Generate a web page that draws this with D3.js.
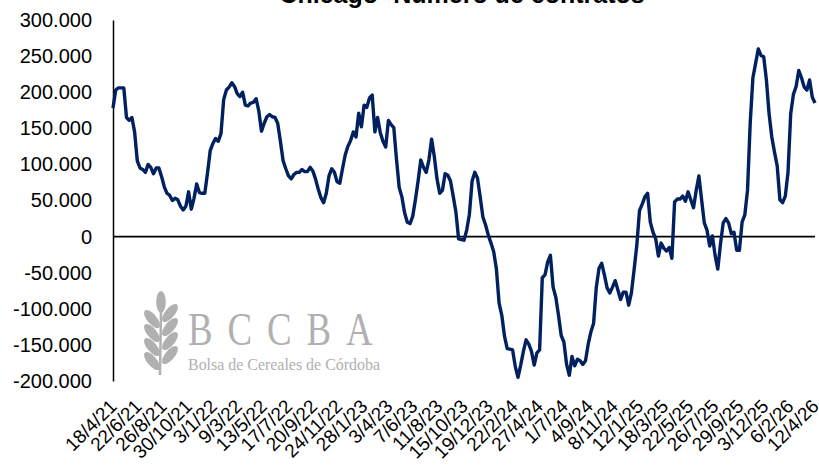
<!DOCTYPE html>
<html>
<head>
<meta charset="utf-8">
<script src="https://cdn.jsdelivr.net/npm/d3@7"></script>
<style>
  body { margin: 0; background: #fff; }
  svg { display: block; }
</style>
</head>
<body>
<div id="chart"></div>
<script>
const width = 819;
const height = 465;

// weekly series, first week = 18/4/21
const startDate = new Date(2021, 3, 18);
const values = [
  178000, 203000, 206000, 206000, 206000, 165000, 161000, 165000, 145000, 105000,
  95000, 93000, 89000, 100000, 96000, 87000, 95000, 95000, 83000, 69000,
  60000, 57000, 50000, 53000, 51000, 42000, 37000, 42000, 62000, 38000,
  53000, 73000, 61000, 60000, 60000, 88000, 119000, 129000, 136000, 132000,
  143000, 190000, 203000, 207000, 213000, 208000, 198000, 194000, 200000, 182000,
  181000, 185000, 186000, 191000, 174000, 146000, 157000, 166000, 169000, 166000,
  165000, 157000, 132000, 105000, 94000, 84000, 80000, 86000, 89000, 89000,
  93000, 90000, 90000, 96000, 91000, 80000, 66000, 54000, 47000, 60000,
  84000, 94000, 89000, 76000, 74000, 94000, 113000, 125000, 133000, 145000,
  138000, 171000, 152000, 182000, 179000, 192000, 196000, 145000, 165000, 144000,
  132000, 124000, 161000, 155000, 151000, 107000, 68000, 55000, 33000, 20000,
  18000, 28000, 51000, 77000, 106000, 96000, 89000, 106000, 135000, 111000,
  80000, 60000, 64000, 87000, 85000, 77000, 56000, 34000, -3000, -4000,
  -5000, 9000, 31000, 77000, 89000, 81000, 55000, 27000, 16000, 2000,
  -9000, -21000, -45000, -92000, -109000, -138000, -155000, -156000, -157000, -180000,
  -195000, -178000, -159000, -143000, -149000, -159000, -178000, -161000, -157000, -57000,
  -53000, -35000, -26000, -70000, -84000, -109000, -137000, -146000, -177000, -192000,
  -166000, -179000, -170000, -172000, -177000, -172000, -149000, -132000, -120000, -70000,
  -44000, -37000, -53000, -71000, -78000, -70000, -61000, -74000, -87000, -77000,
  -77000, -95000, -78000, -46000, -12000, 36000, 45000, 55000, 60000, 20000,
  6000, -3000, -27000, -9000, -16000, -20000, -15000, -30000, 48000, 52000,
  52000, 56000, 49000, 62000, 51000, 40000, 64000, 84000, 51000, 19000,
  9000, -13000, 1000, -26000, -45000, -10000, 19000, 25000, 19000, 4000,
  6000, -19000, -19000, 20000, 30000, 64000, 157000, 220000, 240000, 260000,
  251000, 249000, 217000, 170000, 138000, 117000, 98000, 51000, 47000, 56000,
  89000, 170000, 197000, 208000, 230000, 220000, 207000, 203000, 217000, 193000,
  185000
];

const tickLabels = [
  "18/4/21", "22/6/21", "26/8/21", "30/10/21", "3/1/22", "9/3/22", "13/5/22",
  "17/7/22", "20/9/22", "24/11/22", "28/1/23", "3/4/23", "7/6/23", "11/8/23",
  "15/10/23", "19/12/23", "22/2/24", "27/4/24", "1/7/24", "4/9/24", "8/11/24",
  "12/1/25", "18/3/25", "22/5/25", "26/7/25", "29/9/25", "3/12/25", "6/2/26",
  "12/4/26"
];

const yTicks = [-200000, -150000, -100000, -50000, 0, 50000, 100000, 150000, 200000, 250000, 300000];

const title = "Chicago- Número de contratos";

const data = values.map((v, i) => ({date: d3.timeDay.offset(startDate, i * 7), value: v}));
const parseTick = d3.timeParse("%d/%m/%y");
const tickDates = tickLabels.map(parseTick);

const locale = d3.formatLocale({decimal: ",", thousands: ".", grouping: [3], currency: ["$", ""], minus: "-"});
const format = locale.format(",d");

const x = d3.scaleTime()
    .domain([startDate, data[data.length - 1].date])
    .range([113, 815]);

const y = d3.scaleLinear()
    .domain([-200000, 300000])
    .range([381, 20]);

const svg = d3.select("#chart")
    .append("svg")
    .attr("width", width)
    .attr("height", height)
    .attr("viewBox", [0, 0, width, height])
    .style("font-family", "'Liberation Sans', Arial, sans-serif");

// watermark
const logo = svg.append("g").attr("fill", "#b0b0b0");
const leaves = [
  {cx: 161, cy: 302, r: 0},
  {cx: 152, cy: 319, r: -40}, {cx: 152, cy: 333, r: -40}, {cx: 152, cy: 347, r: -40}, {cx: 152, cy: 361, r: -40},
  {cx: 170, cy: 313, r: 40}, {cx: 170, cy: 327, r: 40}, {cx: 170, cy: 341, r: 40}, {cx: 170, cy: 355, r: 40}
];
logo.selectAll("ellipse")
  .data(leaves)
  .join("ellipse")
    .attr("cx", 0)
    .attr("cy", 0)
    .attr("rx", 4.8)
    .attr("ry", 11)
    .attr("transform", d => `translate(${d.cx},${d.cy}) rotate(${d.r})`);
logo.append("line")
    .attr("x1", 161).attr("y1", 310).attr("x2", 160).attr("y2", 375)
    .attr("stroke", "#b0b0b0").attr("stroke-width", 2.5);
logo.selectAll("text.big")
  .data(["B", "C", "C", "B", "A"])
  .join("text")
    .attr("class", "big")
    .attr("transform", (d, i) => `translate(${188 + i * 39.5},345) scale(0.8,1)`)
    .style("font-family", "'Liberation Serif', 'DejaVu Serif', serif")
    .style("font-size", "46px")
    .text(d => d);
logo.append("text")
    .attr("x", 188)
    .attr("y", 370)
    .attr("textLength", 192)
    .attr("lengthAdjust", "spacingAndGlyphs")
    .style("font-family", "'Liberation Serif', 'DejaVu Serif', serif")
    .style("font-size", "17px")
    .text("Bolsa de Cereales de Córdoba");

// title (clipped at the top as in the original)
svg.append("text")
    .attr("x", 462)
    .attr("y", 3)
    .attr("text-anchor", "middle")
    .style("font-size", "25px")
    .style("font-weight", "bold")
    .text(title);

// y axis
const yAxis = svg.append("g")
    .attr("transform", "translate(113,0)")
    .call(d3.axisLeft(y).tickValues(yTicks).tickSize(0).tickPadding(21).tickFormat(format));
yAxis.select(".domain").attr("stroke", "#000").attr("stroke-width", 1.5);
yAxis.selectAll("text").style("font-size", "20px").attr("fill", "#000");

// zero line
svg.append("line")
    .attr("x1", 113)
    .attr("x2", 815)
    .attr("y1", y(0))
    .attr("y2", y(0))
    .attr("stroke", "#000")
    .attr("stroke-width", 1.6);

// x axis labels
const xAxis = svg.append("g")
    .attr("transform", "translate(-5,398)")
    .call(d3.axisBottom(x).tickValues(tickDates).tickSize(0).tickFormat(d3.timeFormat("%-d/%-m/%y")));
xAxis.select(".domain").remove();
xAxis.selectAll("text")
    .style("font-size", "19px")
    .attr("fill", "#000")
    .attr("text-anchor", "end")
    .attr("dy", "0.7em")
    .attr("y", 0)
    .attr("transform", "rotate(-45)");

// series
const line = d3.line()
    .x(d => x(d.date))
    .y(d => y(d.value));

svg.append("path")
    .datum(data)
    .attr("fill", "none")
    .attr("stroke", "#002060")
    .attr("stroke-width", 3.4)
    .attr("stroke-linejoin", "round")
    .attr("d", line);
</script>
</body>
</html>
